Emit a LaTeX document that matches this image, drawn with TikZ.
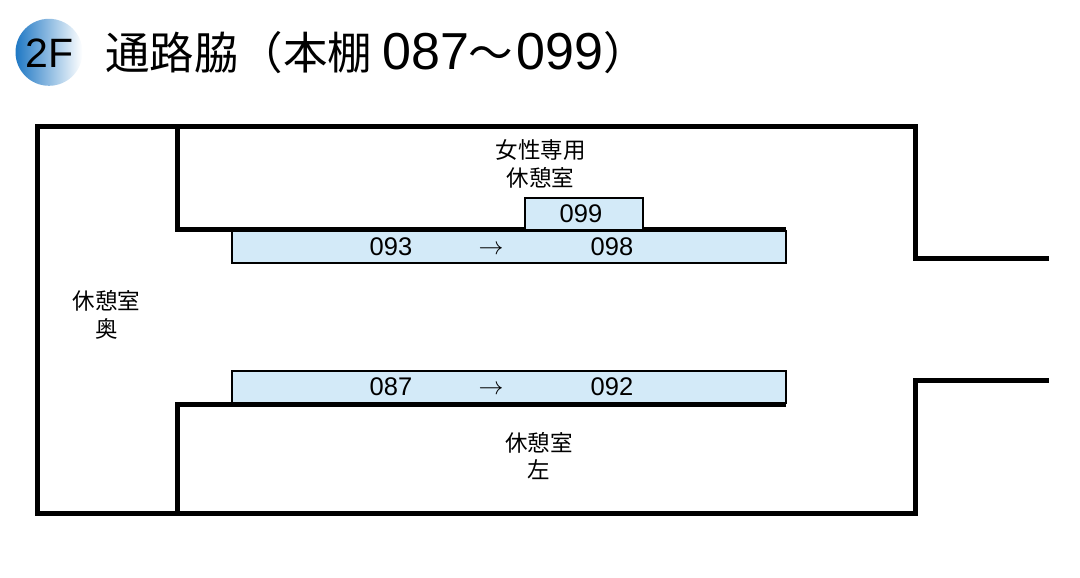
\documentclass[tikz,border=0pt]{standalone}
\usepackage{fontspec}
\setmainfont{Liberation Sans}
\newfontfamily\cjk{Noto Sans CJK JP}
\usetikzlibrary{positioning}

\definecolor{rackblue}{HTML}{D3EAF8}
\definecolor{badgeblue}{HTML}{1F78C4}

\tikzset{
	wall/.style={line width=5pt, line join=miter, line cap=butt},
	rack/.style={draw, line width=2pt, fill=rackblue, inner sep=0pt},
	shelfno/.style={font=\fontsize{25.5}{25.5}\selectfont, inner sep=0pt},
	roomtext/.style={font=\fontsize{22.5}{27.5}\selectfont\cjk, align=center, inner sep=0pt}
}

\begin{document}
\begin{tikzpicture}[x=1pt, y=-1pt]
	\useasboundingbox (0, 0) rectangle (1080, 578);
	% Title:
	\shade[left color=badgeblue, right color=white] (49, 52.3) circle [radius=33.5];
	\node[font=\fontsize{41}{41}\selectfont, inner sep=0pt](Badge) at (49.5, 53){2F};
	\node[font=\fontsize{44.5}{44.5}\selectfont\cjk, anchor=west, inner sep=0pt](Title) at (105, 53){通路脇（本棚\hspace{10pt}{\rmfamily\fontsize{52}{52}\selectfont 087}〜\hspace{3pt}{\rmfamily\fontsize{52}{52}\selectfont 099}）};
	% Walls:
	\draw[wall] (177.5, 126) -- (177.5, 229.5) -- (786, 229.5);
	\draw[wall] (786, 404.5) -- (177.5, 404.5) -- (177.5, 513);
	\draw[wall] (1049, 258) -- (915.5, 258) -- (915.5, 126) -- (37, 126) -- (37, 513) -- (915.5, 513) -- (915.5, 380) -- (1049, 380);
	% Shelves:
	\node[rack, minimum width=118pt, minimum height=32pt](Rack99) at (584, 214){};
	\node[rack, minimum width=554pt, minimum height=32pt](RackUp) at (509, 247){};
	\node[rack, minimum width=554pt, minimum height=32pt](RackDown) at (509, 387){};
	\node[shelfno] at (581, 214){099};
	\node[shelfno] at (391, 247){093};
	\node[shelfno] at (491, 250){$\rightarrow$};
	\node[shelfno] at (612, 247){098};
	\node[shelfno] at (391, 387){087};
	\node[shelfno] at (491, 390){$\rightarrow$};
	\node[shelfno] at (612, 387){092};
	% Rooms:
	\node[roomtext](RoomWomen) at (540.5, 164){女性専用\\休憩室};
	\node[roomtext](RoomBack) at (106.5, 315){休憩室\\奥};
	\node[roomtext](RoomLeft) at (539, 456){休憩室\\左};
\end{tikzpicture}
\end{document}
